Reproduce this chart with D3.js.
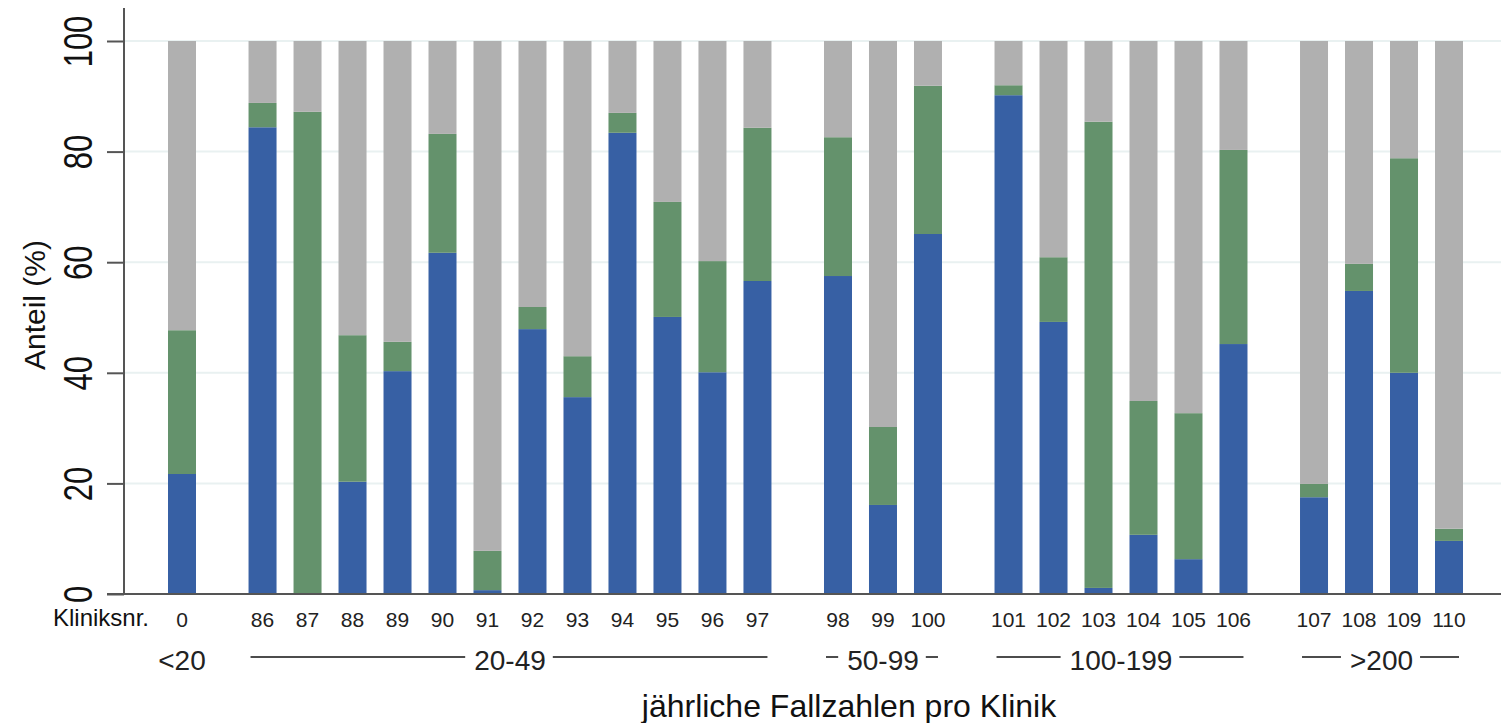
<!DOCTYPE html>
<html>
<head>
<meta charset="utf-8">
<script src="https://cdn.jsdelivr.net/npm/d3@7"></script>
<style>
    body { margin: 0; background: white; }
    svg { display: block; font-family: Arial, 'Liberation Sans', sans-serif; }
</style>
</head>
<body>
<div id="plot"></div>
<script>
// clinic numbers along the x axis
var clinics = ["0", "86", "87", "88", "89", "90", "91", "92", "93", "94", "95", "96", "97",
    "98", "99", "100", "101", "102", "103", "104", "105", "106", "107", "108", "109", "110"]
// case volume group of every clinic (index into groups)
var clinicGroup = [0, 1, 1, 1, 1, 1, 1, 1, 1, 1, 1, 1, 1, 2, 2, 2, 3, 3, 3, 3, 3, 3, 4, 4, 4, 4]
var groups = ["<20", "20-49", "50-99", "100-199", ">200"]

// segment shares in percent (bottom blue, middle green, top grey)
var blueValues = [21.7, 84.4, 0, 20.3, 40.3, 61.7, 0.7, 47.9, 35.6, 83.4, 50.1, 40.1, 56.6,
    57.5, 16.1, 65.1, 90.2, 49.2, 1.1, 10.7, 6.3, 45.2, 17.5, 54.8, 40.0, 9.6]
var greenValues = [26.0, 4.4, 87.2, 26.5, 5.3, 21.5, 7.1, 4.0, 7.4, 3.6, 20.8, 20.1, 27.7,
    25.1, 14.1, 26.8, 1.8, 11.7, 84.3, 24.2, 26.4, 35.1, 2.4, 4.9, 38.8, 2.2]
var greyValues = [52.3, 11.2, 12.8, 53.2, 54.4, 16.8, 92.2, 48.1, 57.0, 13.0, 29.1, 39.8, 15.7,
    17.4, 69.8, 8.1, 8.0, 39.1, 14.6, 65.1, 67.3, 19.7, 80.1, 40.3, 21.2, 88.2]

var yTicks = [0, 20, 40, 60, 80, 100]

// image dimensions
var w = 1501
var h = 723
// extra space between volume groups, in bar slots
var groupGap = 0.79
var barWidth = 28

var colors = { blue: "#3760a4", green: "#64926c", grey: "#b0b0b0" }

// table for the stack layout
var rows = clinics.map(function(c, i) {
    return { clinic: c, blue: blueValues[i], green: greenValues[i], grey: greyValues[i] }
})
var series = d3.stack().keys(["blue", "green", "grey"])(rows)

// slot position of each clinic: index plus gaps between groups
var slots = clinics.map(function(c, i) { return i + clinicGroup[i] * groupGap })

var plotsvg = d3.select("#plot").append("svg")
    .attr("width", w)
    .attr("height", h)

var xScale = d3.scaleLinear()
    .domain([0, d3.max(slots)])
    .range([182, 1449])

var yScale = d3.scaleLinear()
    .domain([0, 100])
    .range([594, 41])

// horizontal grid lines
plotsvg.append("g")
    .selectAll("line")
    .data(yTicks.slice(1))
    .enter()
    .append("line")
    .attr("x1", 124)
    .attr("x2", w)
    .attr("y1", function(d) { return yScale(d) })
    .attr("y2", function(d) { return yScale(d) })
    .attr("stroke", "#e9f1f1")
    .attr("stroke-width", 2)

// stacked bars
plotsvg.append("g")
    .selectAll("g")
    .data(series)
    .enter()
    .append("g")
    .attr("fill", function(s) { return colors[s.key] })
    .selectAll("rect")
    .data(function(s) { return s })
    .enter()
    .append("rect")
    .attr("x", function(d, i) { return xScale(slots[i]) - barWidth / 2 })
    .attr("width", barWidth)
    .attr("y", function(d) { return yScale(d[1]) })
    .attr("height", function(d) { return yScale(d[0]) - yScale(d[1]) })

// y axis with rotated tick labels
var yAxis = d3.axisLeft(yScale).tickValues(yTicks).tickSize(17).tickSizeOuter(0)
var yg = plotsvg.append("g")
    .attr("transform", "translate(124,0)")
    .call(yAxis)
yg.select(".domain").remove()
yg.selectAll(".tick line").attr("stroke", "#555").attr("stroke-width", 2)
yg.selectAll(".tick text")
    .attr("x", null)
    .attr("dy", null)
    .attr("text-anchor", "middle")
    .attr("transform", "translate(-32,0) rotate(-90) scale(1,1.3)")
    .attr("font-size", 31)
    .attr("font-family", "Arial, 'Liberation Sans', sans-serif")
    .attr("fill", "#111")

// axis lines
plotsvg.append("line")
    .attr("x1", 124).attr("x2", 124)
    .attr("y1", yScale(100) - 33).attr("y2", yScale(0))
    .attr("stroke", "#555").attr("stroke-width", 2)
plotsvg.append("line")
    .attr("x1", 107).attr("x2", w)
    .attr("y1", yScale(0)).attr("y2", yScale(0))
    .attr("stroke", "#555").attr("stroke-width", 2)

// y axis title
plotsvg.append("text")
    .attr("text-anchor", "middle")
    .attr("transform", "translate(45,305) rotate(-90)")
    .attr("font-size", 30)
    .attr("fill", "#111")
    .text("Anteil (%)")

// clinic numbers
plotsvg.append("text")
    .attr("x", 149)
    .attr("y", 626)
    .attr("text-anchor", "end")
    .attr("font-size", 24)
    .attr("fill", "#111")
    .text("Kliniksnr.")

plotsvg.append("g")
    .selectAll("text")
    .data(clinics)
    .enter()
    .append("text")
    .attr("x", function(d, i) { return xScale(slots[i]) })
    .attr("y", 627)
    .attr("text-anchor", "middle")
    .attr("font-size", 21)
    .attr("fill", "#222")
    .text(function(d) { return d })

// group labels with flanking lines
var groupInfo = groups.map(function(g, gi) {
    var idx = d3.range(clinics.length).filter(function(i) { return clinicGroup[i] == gi })
    return {
        name: g,
        left: xScale(slots[idx[0]]) - barWidth / 2,
        right: xScale(slots[idx[idx.length - 1]]) + barWidth / 2,
        count: idx.length
    }
})

var groupRow = plotsvg.append("g")
groupInfo.forEach(function(g) {
    var cx = (g.left + g.right) / 2
    var label = groupRow.append("text")
        .attr("x", cx)
        .attr("y", 670)
        .attr("text-anchor", "middle")
        .attr("font-size", 28)
        .attr("fill", "#222")
        .text(g.name)
    if (g.count < 2) return
    var half = label.node().getComputedTextLength() / 2
    groupRow.append("line")
        .attr("x1", g.left + 2).attr("x2", cx - half - 9)
        .attr("y1", 657).attr("y2", 657)
        .attr("stroke", "#111").attr("stroke-width", 1.5)
    groupRow.append("line")
        .attr("x1", cx + half + 7).attr("x2", g.right - 4)
        .attr("y1", 657).attr("y2", 657)
        .attr("stroke", "#111").attr("stroke-width", 1.5)
})

// x axis title
plotsvg.append("text")
    .attr("x", 849)
    .attr("y", 717)
    .attr("text-anchor", "middle")
    .attr("font-size", 32)
    .attr("fill", "#111")
    .text("jährliche Fallzahlen pro Klinik")
</script>
</body>
</html>
